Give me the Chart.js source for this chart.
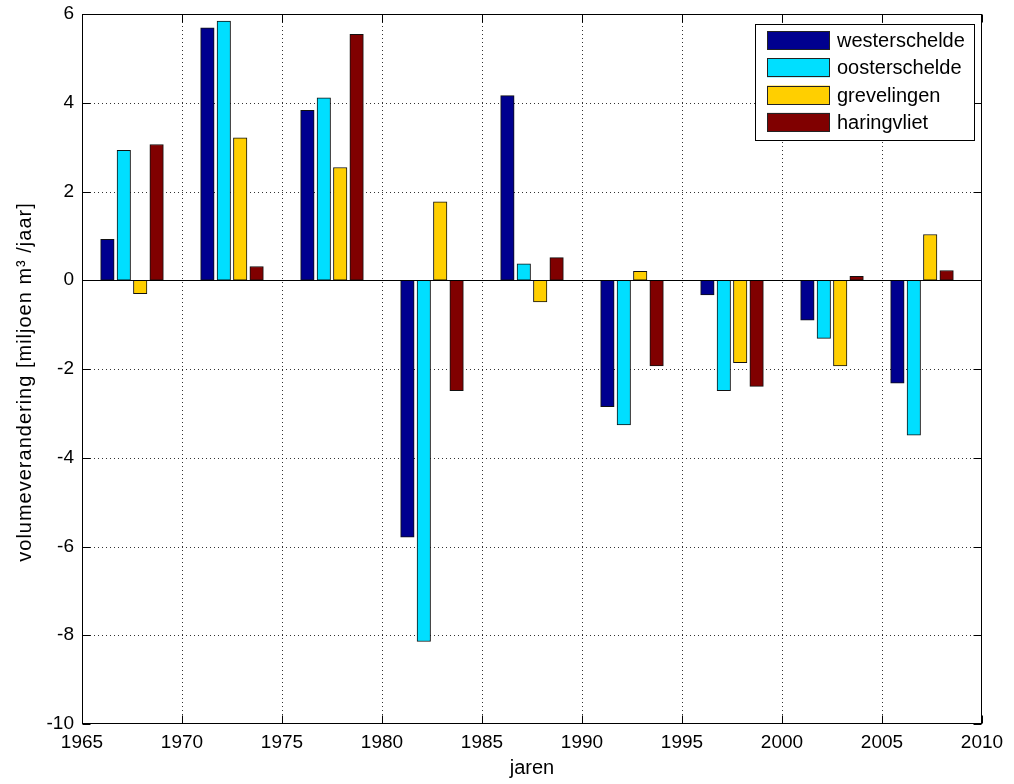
<!DOCTYPE html>
<html>
<head>
<meta charset="utf-8">
<script src="https://cdn.jsdelivr.net/npm/chart.js@4/dist/chart.umd.min.js"></script>
<style>
html,body{margin:0;padding:0;background:#fff;}
canvas{display:block;}
</style>
</head>
<body>
<canvas id="c" width="1014" height="784"></canvas>
<script>
const years = [1967.5, 1972.5, 1977.5, 1982.5, 1987.5, 1992.5, 1997.5, 2002.5, 2007];
const westerschelde = [0.92, 5.69, 3.83, -5.79, 4.16, -2.85, -0.33, -0.90, -2.32];
const oosterschelde = [2.93, 5.84, 4.11, -8.14, 0.37, -3.26, -2.49, -1.31, -3.49];
const grevelingen   = [-0.30, 3.21, 2.54, 1.77, -0.49, 0.20, -1.86, -1.93, 1.03];
const haringvliet   = [3.06, 0.31, 5.54, -2.49, 0.51, -1.93, -2.39, 0.09, 0.22];
const seriesNames = ['westerschelde', 'oosterschelde', 'grevelingen', 'haringvliet'];
const seriesColors = ['#00008F', '#00DFFF', '#FFCF00', '#800000'];
const xTickMin = 1965, xTickMax = 2010, xTickStep = 5;
const yTickMin = -10, yTickMax = 6, yTickStep = 2;
const xTitle = 'jaren';
const yTitle = 'volumeverandering [miljoen m\u00B3 /jaar]';

const FONT = '"Liberation Sans", Arial, Helvetica, sans-serif';
const seriesValues = [westerschelde, oosterschelde, grevelingen, haringvliet];
const barStep = 0.82; // years between bars inside a group

const datasets = seriesValues.map((vals, s) => ({
  label: seriesNames[s],
  data: years.map((yr, i) => ({ x: yr + (s - 1.5) * barStep, y: vals[i] })),
  backgroundColor: seriesColors[s],
  borderColor: '#111',
  borderWidth: 1,
  borderSkipped: false,
  grouped: false,
  barThickness: 13.5
}));

const matlabAxes = {
  id: 'matlabAxes',
  beforeDatasetsDraw(chart) {
    const { ctx, chartArea: a, scales: { x, y } } = chart;
    ctx.save();
    ctx.strokeStyle = 'rgba(0,0,0,0.8)';
    ctx.lineWidth = 1;
    ctx.setLineDash([1, 3]);
    x.ticks.forEach(t => {
      if (t.value <= xTickMin || t.value >= xTickMax) return;
      const px = Math.round(x.getPixelForValue(t.value)) + 0.5;
      ctx.beginPath(); ctx.moveTo(px, a.top); ctx.lineTo(px, a.bottom); ctx.stroke();
    });
    y.ticks.forEach(t => {
      if (t.value <= yTickMin || t.value >= yTickMax) return;
      const py = Math.round(y.getPixelForValue(t.value)) + 0.5;
      ctx.beginPath(); ctx.moveTo(a.left, py); ctx.lineTo(a.right, py); ctx.stroke();
    });
    ctx.restore();
  },
  afterDatasetsDraw(chart) {
    const { ctx, chartArea: a, scales: { x, y } } = chart;
    ctx.save();
    ctx.strokeStyle = '#000';
    ctx.lineWidth = 1;
    ctx.setLineDash([]);
    // baseline
    const y0 = Math.round(y.getPixelForValue(0)) + 0.5;
    ctx.beginPath(); ctx.moveTo(a.left, y0); ctx.lineTo(a.right, y0); ctx.stroke();
    // box
    const L = Math.round(a.left) + 0.5, R = Math.round(a.right) - 0.5;
    const T = Math.round(a.top) + 0.5, B = Math.round(a.bottom) - 0.5;
    ctx.strokeRect(L, T, R - L, B - T);
    // inward ticks
    const tl = 8;
    x.ticks.forEach(t => {
      const px = Math.round(x.getPixelForValue(t.value)) + 0.5;
      ctx.beginPath();
      ctx.moveTo(px, B); ctx.lineTo(px, B - tl);
      ctx.moveTo(px, T); ctx.lineTo(px, T + tl);
      ctx.stroke();
    });
    y.ticks.forEach(t => {
      const py = Math.round(y.getPixelForValue(t.value)) + 0.5;
      ctx.beginPath();
      ctx.moveTo(L, py); ctx.lineTo(L + tl, py);
      ctx.moveTo(R, py); ctx.lineTo(R - tl, py);
      ctx.stroke();
    });
    // y title
    ctx.fillStyle = '#000';
    ctx.font = '20px ' + FONT;
    ctx.save();
    ctx.translate(31, (a.top + a.bottom) / 2 + 13);
    ctx.rotate(-Math.PI / 2);
    ctx.textAlign = 'center';
    ctx.textBaseline = 'alphabetic';
    try { ctx.letterSpacing = '1px'; } catch (e) {}
    ctx.fillText(yTitle, 0, 0);
    ctx.restore();
    // x title
    ctx.textAlign = 'center';
    ctx.textBaseline = 'middle';
    ctx.fillText(xTitle, (a.left + a.right) / 2, 768);
    // legend
    const lx = a.right - 227, ly = a.top + 10, lw = 219, lh = 116;
    ctx.fillStyle = '#fff';
    ctx.fillRect(lx, ly, lw, lh);
    ctx.strokeStyle = '#000';
    ctx.strokeRect(Math.round(lx) + 0.5, Math.round(ly) + 0.5, lw, lh);
    ctx.textAlign = 'left';
    chart.data.datasets.forEach((ds, i) => {
      const cy = ly + 16.5 + i * 27.3;
      ctx.fillStyle = ds.backgroundColor;
      ctx.fillRect(lx + 12, cy - 9.5, 63, 19);
      ctx.strokeStyle = '#222';
      ctx.strokeRect(Math.round(lx + 12) + 0.5, Math.round(cy - 9.5) + 0.5, 62, 18);
      ctx.fillStyle = '#000';
      ctx.fillText(ds.label, lx + 82, cy + 1);
    });
    ctx.restore();
  }
};

new Chart(document.getElementById('c'), {
  type: 'bar',
  data: { datasets },
  options: {
    responsive: false,
    animation: false,
    devicePixelRatio: 1,
    layout: { padding: { top: 14, right: 32, left: 0, bottom: 0 } },
    plugins: { legend: { display: false }, tooltip: { enabled: false } },
    scales: {
      x: {
        type: 'linear',
        min: xTickMin, max: xTickMax,
        offset: false,
        grid: { display: false, offset: false, drawTicks: false },
        border: { display: false },
        ticks: {
          stepSize: xTickStep,
          autoSkip: false,
          maxRotation: 0,
          padding: 7,
          color: '#000',
          font: { family: FONT, size: 19 },
          callback: v => String(v)
        },
        afterFit: s => { s.height = 60; s.paddingLeft = 0; s.paddingRight = 0; }
      },
      y: {
        min: yTickMin, max: yTickMax,
        grid: { display: false, drawTicks: false },
        border: { display: false },
        ticks: {
          stepSize: yTickStep,
          padding: 8,
          color: '#000',
          font: { family: FONT, size: 19 },
          callback: v => String(v)
        },
        afterFit: s => { s.width = 82; s.paddingTop = 0; s.paddingBottom = 0; }
      }
    }
  },
  plugins: [matlabAxes]
});
</script>
</body>
</html>
